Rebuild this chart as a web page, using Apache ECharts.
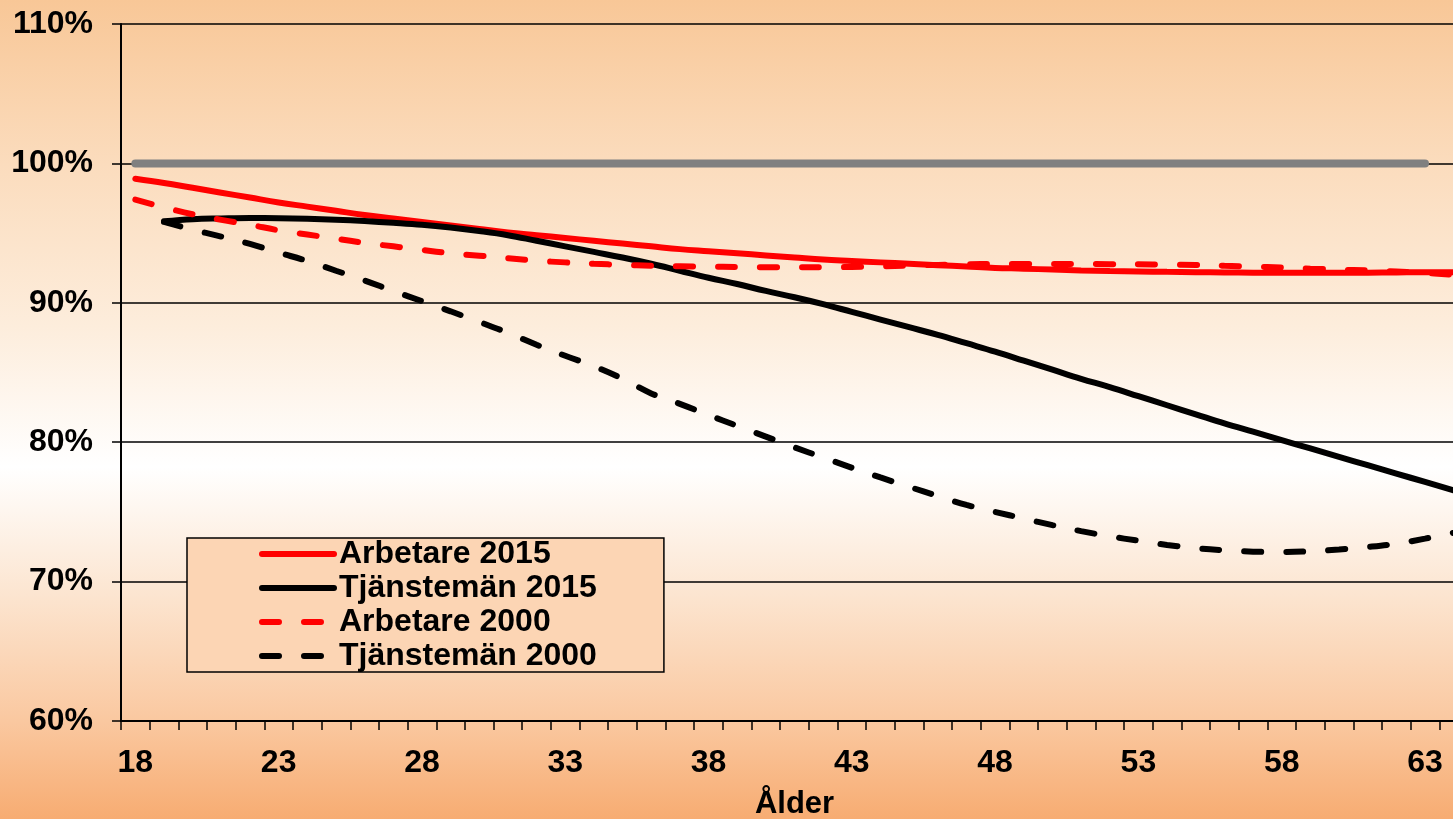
<!DOCTYPE html>
<html>
<head>
<meta charset="utf-8">
<title>Ålder</title>
<script src="https://cdn.jsdelivr.net/npm/echarts@6/dist/echarts.min.js"></script>
<style>
  html, body { margin: 0; padding: 0; overflow: hidden; }
  /* diagrammet är beskuret till höger, därför bredare än fönstret */
  #chart { width: 1468px; height: 819px; }
</style>
</head>
<body>
<div id="chart"></div>
<script>
// ålder 18-64
const ages = []
for (let a = 18; a <= 64; a++) ages.push(String(a))

const yTicks = [60, 70, 80, 90, 100, 110]

// nivå 100 %
const reference = [
  100, 100, 100, 100, 100, 100, 100, 100, 100, 100,
  100, 100, 100, 100, 100, 100, 100, 100, 100, 100,
  100, 100, 100, 100, 100, 100, 100, 100, 100, 100,
  100, 100, 100, 100, 100, 100, 100, 100, 100, 100,
  100, 100, 100, 100, 100, 100, null
]

const arbetare2015 = [
  98.9, 98.6, 98.25, 97.9, 97.55, 97.2, 96.9, 96.6, 96.3, 96.05,
  95.8, 95.55, 95.3, 95.05, 94.85, 94.65, 94.45, 94.25, 94.05, 93.85,
  93.7, 93.55, 93.4, 93.25, 93.1, 93.0, 92.9, 92.8, 92.7, 92.6,
  92.5, 92.45, 92.38, 92.32, 92.28, 92.25, 92.22, 92.2, 92.18, 92.16,
  92.15, 92.15, 92.15, 92.16, 92.18, 92.2, 92.2
]

const tjansteman2015 = [
  null, 95.85, 96.0, 96.05, 96.08, 96.07, 96.03, 95.96, 95.86, 95.74,
  95.6, 95.4, 95.15, 94.85, 94.45, 94.05, 93.65, 93.25, 92.8, 92.3,
  91.8, 91.35, 90.85, 90.4, 89.9, 89.35, 88.8, 88.25, 87.7, 87.1,
  86.5, 85.85, 85.2, 84.55, 83.95, 83.3, 82.65, 82.0, 81.35, 80.75,
  80.15, 79.55, 78.95, 78.35, 77.75, 77.15, 76.55
]

const arbetare2000 = [
  97.4, 96.85, 96.35, 95.95, 95.6, 95.2, 94.9, 94.6, 94.3, 94.05,
  93.8, 93.55, 93.38, 93.2, 93.02, 92.9, 92.8, 92.72, 92.66, 92.62,
  92.59, 92.57, 92.55, 92.55, 92.55, 92.57, 92.62, 92.67, 92.72, 92.76,
  92.78, 92.78, 92.78, 92.78, 92.77, 92.76, 92.74, 92.72, 92.66, 92.6,
  92.53, 92.45, 92.38, 92.32, 92.25, 92.15, 92.0
]

const tjansteman2000 = [
  null, 95.8, 95.25, 94.75, 94.22, 93.6, 93.0, 92.3, 91.6, 90.85,
  90.12, 89.39, 88.63, 87.85, 86.99, 86.2, 85.45, 84.55, 83.5, 82.75,
  81.95, 81.17, 80.4, 79.63, 78.9, 78.17, 77.47, 76.8, 76.14, 75.5,
  75.0, 74.52, 74.05, 73.62, 73.25, 72.93, 72.63, 72.4, 72.25, 72.15,
  72.12, 72.18, 72.3, 72.48, 72.72, 73.08, 73.5
]

const font = 'Liberation Sans, Arial, sans-serif'
const dash = [17, 25]

const chart = echarts.init(document.getElementById('chart'))
chart.setOption({
  animation: false,
  backgroundColor: new echarts.graphic.LinearGradient(0, 0, 0, 1, [
    { offset: 0, color: '#F8C797' },
    { offset: 0.2, color: '#FBDCBD' },
    { offset: 0.4, color: '#FDEDDC' },
    { offset: 0.57, color: '#FFFFFF' },
    { offset: 0.72, color: '#FCE6D2' },
    { offset: 0.88, color: '#FAC8A0' },
    { offset: 1, color: '#F7AC72' }
  ]),
  textStyle: { fontFamily: font },
  grid: {
    left: 121,
    top: 24,
    right: 0,
    bottom: 98,
    outerBoundsMode: 'none'
  },
  legend: {
    orient: 'vertical',
    left: 187,
    top: 538,
    data: ['Arbetare 2015', 'Tjänstemän 2015', 'Arbetare 2000', 'Tjänstemän 2000'],
    backgroundColor: '#FCD5B4',
    borderColor: '#000',
    borderWidth: 1.5,
    borderRadius: 0,
    padding: [0, 67, 0, 72],
    itemWidth: 72,
    itemHeight: 14,
    itemGap: 2,
    itemStyle: { opacity: 0 },
    lineStyle: { width: 6, cap: 'round' },
    textStyle: {
      fontFamily: font,
      fontSize: 32,
      fontWeight: 'bold',
      color: '#000'
    }
  },
  xAxis: {
    type: 'category',
    data: ages,
    boundaryGap: true,
    name: 'Ålder',
    nameLocation: 'middle',
    nameGap: 68,
    nameTextStyle: { fontFamily: font, fontSize: 31, fontWeight: 'bold', color: '#000' },
    axisLine: { lineStyle: { color: '#000', width: 2 } },
    axisTick: { show: true, interval: 0, length: 9, lineStyle: { color: '#000', width: 1.5 } },
    axisLabel: {
      interval: 4,
      margin: 26,
      fontFamily: font,
      fontSize: 32,
      fontWeight: 'bold',
      color: '#000'
    },
    splitLine: { show: false }
  },
  yAxis: {
    type: 'value',
    min: yTicks[0],
    max: yTicks[yTicks.length - 1],
    interval: 10,
    axisLine: { show: true, lineStyle: { color: '#000', width: 2 } },
    axisTick: { show: true, length: 9, lineStyle: { color: '#000', width: 1.5 } },
    axisLabel: {
      margin: 28,
      formatter: '{value}%',
      fontFamily: font,
      fontSize: 32,
      fontWeight: 'bold',
      color: '#000'
    },
    splitLine: { show: true, lineStyle: { color: '#000', width: 1.5 } }
  },
  series: [
    {
      name: '100%',
      type: 'line',
      data: reference,
      symbol: 'none',
      lineStyle: { color: '#808080', width: 8, cap: 'round' }
    },
    {
      name: 'Arbetare 2015',
      type: 'line',
      data: arbetare2015,
      symbol: 'none',
      smooth: 0.4,
      itemStyle: { color: '#FF0000' },
      lineStyle: { color: '#FF0000', width: 6, cap: 'round' }
    },
    {
      name: 'Tjänstemän 2015',
      type: 'line',
      data: tjansteman2015,
      symbol: 'none',
      smooth: 0.4,
      itemStyle: { color: '#000' },
      lineStyle: { color: '#000', width: 6, cap: 'round' }
    },
    {
      name: 'Arbetare 2000',
      type: 'line',
      data: arbetare2000,
      symbol: 'none',
      smooth: 0.4,
      itemStyle: { color: '#FF0000' },
      lineStyle: { color: '#FF0000', width: 6, type: dash, cap: 'round' }
    },
    {
      name: 'Tjänstemän 2000',
      type: 'line',
      data: tjansteman2000,
      symbol: 'none',
      smooth: 0.4,
      itemStyle: { color: '#000' },
      lineStyle: { color: '#000', width: 6, type: dash, cap: 'round' }
    }
  ]
})
</script>
</body>
</html>
